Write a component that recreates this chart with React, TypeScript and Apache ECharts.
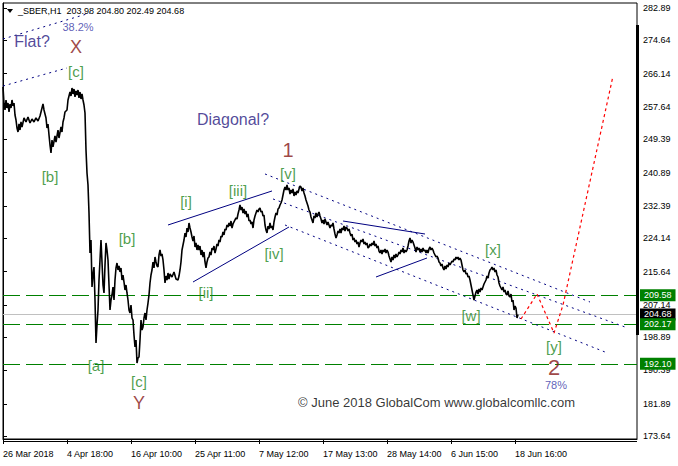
import React, { useEffect, useRef } from "react";
import * as echarts from "echarts";

const FONT = "'Liberation Sans', Arial, sans-serif";

// ---- axes ----
const xTickPositions = [0, 64, 128, 192, 256, 320, 384, 448, 512];
const xTickLabels = [
  "26 Mar 2018", "4 Apr 18:00", "16 Apr 10:00", "25 Apr 11:00", "7 May 12:00",
  "17 May 13:00", "28 May 14:00", "6 Jun 15:00", "18 Jun 16:00",
];
const yTickLabels = [
  282.89, 274.64, 266.14, 257.64, 249.39, 240.89, 232.39, 224.14, 215.64,
  207.14, 198.89, 190.39, 181.89, 173.64,
];
const Y_MIN = 172.9;
const Y_MAX = 284.16;
const X_MAX = 634;

// ---- levels ----
const supportLevels = [209.58, 202.17, 192.1];
const lastPrice = 204.68;

// ---- price (bar index, price) ----
const priceSeries: [number, number][] = [
  [0, 262.73], [1, 258.39], [2, 256.86], [3, 259.41], [4, 257.37], [5, 258.64], [6, 256.35], [7, 258.39],
  [8, 257.37], [9, 259.41], [10, 257.88], [11, 258.64], [12, 255.58], [13, 254.31], [14, 252.26], [15, 251.24],
  [16, 253.29], [17, 251.75], [18, 253.8], [19, 252.52], [21, 254.82], [23, 253.8], [25, 255.07], [27, 253.54],
  [29, 254.56], [31, 253.8], [33, 254.82], [35, 254.05], [37, 255.33], [39, 257.37], [40, 258.39], [41, 256.86],
  [43, 254.82], [44, 252.26], [45, 253.29], [46, 250.48], [47, 247.93], [48, 245.88], [49, 249.2], [50, 247.42],
  [52, 250.22], [53, 248.69], [55, 251.75], [56, 249.71], [58, 252.52], [59, 251.24], [60, 253.8], [61, 254.82],
  [62, 256.35], [64, 256.86], [65, 259.41], [67, 261.45], [68, 260.43], [69, 262.47], [70, 260.94], [71, 262.22],
  [72, 260.18], [73, 261.71], [74, 260.69], [75, 261.96], [76, 259.92], [77, 261.45], [78, 259.67], [79, 260.94],
  [80, 259.41], [81, 258.13], [82, 256.09],
  [83, 246.65], [84, 240.78], [85, 237.72], [86, 230.57], [87, 220.36], [88, 223.68], [89, 211.69], [90, 214.75],
  [91, 216.79], [92, 208.37], [93, 197.4], [94, 201.99], [95, 205.82], [96, 213.47], [97, 218.58], [98, 223.68],
  [99, 218.07], [100, 212.2], [101, 210.16], [102, 217.3], [103, 222.92], [104, 221.13], [105, 218.58], [106, 212.2],
  [107, 205.82], [108, 208.37], [109, 209.65], [110, 211.69], [111, 208.37], [112, 213.47], [113, 216.54], [114, 217.81],
  [115, 216.03], [116, 217.05], [117, 215.52], [118, 216.54], [119, 213.47], [120, 214.75], [121, 212.96], [122, 210.92],
  [123, 212.2], [124, 210.16], [125, 208.37], [126, 205.82], [127, 205.05], [128, 207.09], [129, 203.78], [130, 203.27],
  [131, 199.44], [132, 196.38], [133, 198.16], [134, 192.29], [135, 193.57], [136, 193.82], [137, 198.16], [138, 203.27],
  [139, 200.71], [140, 201.48], [141, 203.78], [142, 205.05], [143, 203.27], [144, 205.82], [145, 207.6], [146, 209.65],
  [147, 212.71],
  [148, 214.75], [149, 216.03], [150, 218.07], [151, 216.54], [152, 219.34], [153, 218.07], [154, 217.05], [155, 216.79],
  [156, 219.85], [157, 221.13], [158, 219.6], [159, 220.11], [160, 218.58], [161, 216.03], [162, 212.71], [163, 214.49],
  [164, 213.47], [165, 215.26], [166, 213.73], [167, 215.01], [169, 214.24], [171, 215.52], [173, 213.73], [175, 213.47],
  [176, 214.49], [177, 216.03], [178, 218.07], [179, 221.13], [180, 222.41], [181, 223.68], [182, 225.47], [183, 224.45],
  [184, 226.74], [185, 225.72], [186, 228.02], [187, 226.74], [188, 225.72], [189, 224.45], [190, 223.43], [191, 224.7],
  [192, 221.9], [193, 222.92], [194, 221.13], [195, 222.41], [196, 221.13], [197, 222.15], [198, 219.85], [199, 221.13],
  [200, 219.34], [201, 220.62], [202, 218.07], [203, 216.54], [204, 218.07], [205, 219.09], [206, 219.34], [207, 220.62],
  [208, 219.85], [209, 221.64], [210, 221.13], [211, 222.15], [212, 220.36], [213, 221.39], [214, 222.66], [215, 222.15],
  [216, 223.68], [217, 223.17], [218, 224.7], [219, 224.45], [220, 225.72], [221, 224.96], [222, 226.49], [223, 226.23],
  [224, 227.51], [225, 227.0], [226, 228.02], [227, 227.25], [228, 228.53], [229, 226.74], [230, 227.77], [231, 228.28],
  [232, 228.79], [233, 229.3], [234, 229.04], [235, 230.32], [236, 231.34], [237, 232.61], [238, 231.34], [239, 232.1],
  [240, 230.57], [241, 231.59], [242, 230.32], [243, 231.08], [244, 229.55], [245, 230.32], [246, 228.53], [247, 228.79],
  [248, 227.77], [249, 228.28], [250, 226.74], [251, 228.79], [252, 229.81], [253, 230.57], [254, 231.34], [255, 230.83],
  [256, 231.59], [257, 231.85], [258, 230.83], [259, 231.08], [260, 229.81], [261, 230.06], [262, 227.51], [263, 226.23],
  [264, 225.47], [265, 227.25], [266, 226.49], [267, 228.02], [268, 226.74], [269, 227.25], [270, 226.23], [271, 228.28],
  [272, 229.55], [273, 230.57], [274, 230.06], [275, 231.59], [276, 231.85], [277, 232.61], [278, 233.12], [279, 233.89],
  [280, 235.17], [281, 236.44], [282, 237.21], [283, 236.44], [284, 237.72],
  [285, 236.44], [286, 236.95], [287, 235.42], [288, 236.44], [289, 235.68], [290, 236.7], [291, 234.91], [292, 235.93],
  [293, 235.17], [294, 236.19], [295, 235.68], [296, 236.7], [297, 237.46], [298, 237.21], [299, 236.19], [300, 236.95],
  [301, 235.68], [302, 234.91], [303, 233.89], [304, 233.12], [305, 232.36], [306, 231.34], [307, 230.83], [308, 229.55],
  [309, 228.79], [310, 228.02], [311, 229.81], [312, 229.3], [313, 230.57], [314, 229.55], [315, 230.32], [316, 230.83],
  [317, 229.81], [318, 229.04], [319, 228.02], [320, 228.79], [321, 227.77], [322, 229.04], [323, 228.28], [324, 227.51],
  [325, 228.28], [327, 226.74], [328, 227.51], [329, 227.25], [330, 228.02], [331, 226.49], [332, 225.21], [333, 224.19],
  [334, 224.96], [335, 225.98], [336, 225.47], [337, 226.49], [338, 225.47], [339, 226.74], [340, 226.23], [341, 227.25],
  [342, 225.98], [343, 227.0], [344, 226.74], [345, 225.98], [346, 226.49], [347, 225.47], [348, 224.7], [349, 225.21],
  [350, 223.68], [351, 224.19], [352, 223.17], [353, 223.68], [354, 222.66], [355, 223.17], [356, 221.9], [357, 222.92],
  [358, 223.68], [359, 223.17], [360, 223.94], [361, 222.66], [362, 223.17], [363, 222.41], [364, 222.92], [365, 221.64],
  [366, 221.9], [367, 222.66], [368, 222.15], [369, 222.92], [370, 222.41], [371, 223.43], [372, 222.15], [373, 222.66],
  [374, 221.64], [375, 222.15], [376, 220.87], [377, 220.36], [378, 221.13], [379, 220.11], [380, 221.13], [381, 220.62],
  [382, 221.39], [383, 220.36], [384, 221.13], [385, 220.62], [386, 219.6], [387, 218.83], [388, 218.07], [389, 219.34],
  [390, 218.58], [391, 219.85], [392, 219.09], [393, 220.11], [394, 219.34], [395, 219.85], [396, 220.62], [397, 220.11],
  [398, 221.13], [399, 220.62], [400, 221.64], [401, 220.36], [402, 221.13], [403, 220.62], [404, 221.13], [405, 222.15],
  [406, 223.43], [407, 224.19], [408, 222.92], [409, 223.68], [410, 223.17], [411, 222.41], [412, 221.64], [413, 220.62],
  [414, 221.9], [415, 221.13], [416, 221.64], [417, 220.62], [418, 221.39], [419, 220.62], [420, 221.64], [421, 220.87],
  [422, 221.13], [423, 220.36], [424, 221.13], [425, 220.36], [426, 221.39], [427, 221.9], [428, 221.13], [429, 221.64],
  [430, 221.13], [431, 220.36], [432, 219.85], [433, 219.34], [434, 219.6], [435, 219.09], [436, 218.07], [437, 217.81],
  [438, 217.05], [439, 217.56], [440, 216.54], [441, 216.03], [442, 217.05], [443, 216.28], [444, 217.3], [445, 216.79],
  [446, 217.81], [447, 217.3], [448, 217.81], [449, 218.32], [450, 218.07], [451, 218.83], [452, 218.58], [453, 219.34],
  [454, 218.83], [455, 219.34], [456, 218.58], [457, 219.09], [458, 218.58], [459, 217.3], [460, 216.03], [461, 215.52],
  [462, 216.03], [463, 215.01], [464, 215.26], [465, 214.24], [466, 214.49], [467, 213.47], [468, 212.2], [469, 210.92],
  [470, 209.65], [471, 208.37], [472, 209.39], [473, 210.41], [474, 210.92], [475, 209.9], [476, 211.18], [477, 210.41],
  [478, 211.43], [479, 210.92], [480, 211.69], [481, 212.45], [482, 212.96], [483, 213.47], [484, 214.49], [485, 213.98],
  [486, 215.26], [487, 216.03], [488, 216.28], [489, 216.79], [490, 216.03], [491, 216.54], [492, 215.52], [493, 216.03],
  [494, 214.75], [495, 214.24], [496, 212.71], [497, 211.94], [498, 211.43], [499, 210.92], [500, 211.69], [501, 210.41],
  [502, 210.92], [503, 209.9], [504, 209.65], [505, 210.67], [506, 209.39], [507, 209.14], [508, 209.9], [509, 207.86],
  [510, 208.37], [511, 205.82], [512, 206.84], [513, 206.33], [514, 203.78], [515, 204.68],
];

// ---- drawn lines (bar index, price) ----
const flatUpper: [number, number][] = [[0, 274.98], [87, 281.61]];
const flatLower: [number, number][] = [[0, 262.98], [64, 267.58]];
const wedgeUpper: [number, number][] = [[165, 227.51], [269, 236.19]];
const wedgeLower: [number, number][] = [[190, 212.96], [286, 227.0]];
const corrUpper: [number, number][] = [[340, 228.53], [422, 225.21]];
const corrLower: [number, number][] = [[373, 214.24], [424, 219.09]];
const channelUpper: [number, number][] = [[262, 240.53], [587, 207.86]];
const channelMiddle: [number, number][] = [[270, 234.15], [622, 201.48]];
const channelLower: [number, number][] = [[282, 227.51], [602, 195.1]];
const forecastPath: [number, number][] = [[518, 203.52], [534, 209.9], [551, 199.95], [560, 207.09], [610, 265.53]];

// ---- annotations ----
type Kind = "wave" | "major" | "note" | "pct" | "copy";
const annotations: { x: number; y: number; text: string; kind: Kind; size?: number }[] = [
  { x: 29, y: 274.21, text: "Flat?", kind: "note" },
  { x: 75, y: 278.04, text: "38.2%", kind: "pct" },
  { x: 73, y: 272.94, text: "X", kind: "major" },
  { x: 73, y: 266.56, text: "[c]", kind: "wave" },
  { x: 47, y: 239.76, text: "[b]", kind: "wave" },
  { x: 124, y: 223.94, text: "[b]", kind: "wave" },
  { x: 183, y: 233.38, text: "[i]", kind: "wave" },
  { x: 235, y: 236.44, text: "[iii]", kind: "wave" },
  { x: 285, y: 246.65, text: "1", kind: "major", size: 20 },
  { x: 285, y: 240.53, text: "[v]", kind: "wave" },
  { x: 271, y: 220.11, text: "[iv]", kind: "wave" },
  { x: 203, y: 210.16, text: "[ii]", kind: "wave" },
  { x: 230, y: 254.31, text: "Diagonal?", kind: "note" },
  { x: 93, y: 191.53, text: "[a]", kind: "wave" },
  { x: 136, y: 187.7, text: "[c]", kind: "wave" },
  { x: 136, y: 182.08, text: "Y", kind: "major" },
  { x: 490, y: 221.13, text: "[x]", kind: "wave" },
  { x: 468, y: 204.54, text: "[w]", kind: "wave" },
  { x: 551, y: 196.38, text: "[y]", kind: "wave" },
  { x: 551, y: 191.27, text: "2", kind: "major", size: 22 },
  { x: 553, y: 186.67, text: "78%", kind: "pct" },
  { x: 433.5, y: 182.34, text: "© June 2018 GlobalCom www.globalcomllc.com", kind: "copy" },
];

const kindStyle: Record<Kind, any> = {
  wave: { color: "#1c861c", fontSize: 15, lineHeight: 15 },
  major: { color: "#861616", fontSize: 18, lineHeight: 17 },
  note: { color: "#27187f", fontSize: 16, lineHeight: 16 },
  pct: { color: "#3434a6", fontSize: 11, lineHeight: 11 },
  copy: { color: "#000000", fontSize: 13, lineHeight: 14 },
};

const NAVY = "#000080";

function lineSeries(data: [number, number][], style: any) {
  return {
    type: "line",
    data,
    symbol: "none",
    silent: true,
    z: 3,
    lineStyle: style,
  };
}

export default function App() {
  const ref = useRef<HTMLDivElement>(null);
  useEffect(() => {
    if (!ref.current) return;
    const chart = echarts.init(ref.current, undefined, { renderer: "svg" });
    const dotted = { color: NAVY, width: 1, type: [2, 4] };
    const solid = { color: NAVY, width: 1, type: "solid" };
    const levelLabel = (bg: string) => ({
      show: true,
      position: "end",
      distance: 3,
      formatter: (p: any) => Number(p.value).toFixed(2),
      color: "#fff",
      backgroundColor: bg,
      padding: [2, 4, 1, 4],
      fontSize: 9,
      lineHeight: 9,
      fontFamily: FONT,
    });
    chart.setOption({
      animation: false,
      backgroundColor: "#fff",
      grid: {
        left: 3,
        top: 3,
        width: 634,
        height: 436,
        show: true,
        borderColor: "#000",
        borderWidth: 1,
        containLabel: false,
      },
      xAxis: {
        type: "value",
        min: 0,
        max: X_MAX,
        splitLine: { show: false },
        axisLine: { show: true, lineStyle: { color: "#000" } },
        axisTick: { show: true, customValues: xTickPositions, length: 5, lineStyle: { color: "#000" } },
        axisLabel: {
          customValues: xTickPositions,
          formatter: (v: number) => xTickLabels[xTickPositions.indexOf(Math.round(v))] ?? "",
          align: "left",
          margin: 10,
          color: "#000",
          fontSize: 9,
          fontFamily: FONT,
        },
      },
      yAxis: {
        type: "value",
        position: "right",
        min: Y_MIN,
        max: Y_MAX,
        splitLine: { show: false },
        axisLine: { show: true, lineStyle: { color: "#000" } },
        axisTick: { show: true, customValues: yTickLabels, length: 4, lineStyle: { color: "#000" } },
        axisLabel: {
          customValues: yTickLabels,
          formatter: (v: number) => v.toFixed(2),
          margin: 6,
          color: "#000",
          fontSize: 9,
          lineHeight: 9,
          fontFamily: FONT,
        },
      },
      graphic: [
        { type: "rect", shape: { x: 636, y: 25, width: 3, height: 310 }, style: { fill: "#000" }, z: 10 },
        { type: "line", shape: { x1: 3, y1: 441.5, x2: 637, y2: 441.5 }, style: { stroke: "#000", lineWidth: 1 } },
        { type: "polygon", shape: { points: [[7, 9], [13, 9], [10, 13]] }, style: { fill: "#000" } },
        {
          type: "text",
          x: 18,
          y: 6,
          style: { text: "_SBER,H1  203.98 204.80 202.49 204.68", fill: "#000", fontSize: 9, fontFamily: FONT },
        },
      ],
      series: [
        lineSeries(flatUpper, dotted),
        lineSeries(flatLower, dotted),
        lineSeries(wedgeUpper, solid),
        lineSeries(wedgeLower, solid),
        lineSeries(corrUpper, solid),
        lineSeries(corrLower, solid),
        lineSeries(channelUpper, dotted),
        lineSeries(channelMiddle, dotted),
        lineSeries(channelLower, dotted),
        lineSeries(forecastPath, { color: "#ff0000", width: 1.2, type: [3, 3] }),
        {
          type: "line",
          data: priceSeries,
          symbol: "none",
          silent: true,
          z: 4,
          lineStyle: { color: "#000", width: 1.6 },
          markLine: {
            silent: true,
            symbol: ["none", "none"],
            animation: false,
            z: 2,
            data: [
              {
                yAxis: lastPrice,
                lineStyle: { color: "#c0c0c0", width: 1, type: "solid" },
                label: levelLabel("#000"),
              },
              ...supportLevels.map((v) => ({
                yAxis: v,
                lineStyle: { color: "#008000", width: 1, type: [17, 6] },
                label: levelLabel("#008000"),
              })),
            ],
          },
        },
        {
          type: "scatter",
          silent: true,
          symbolSize: 1,
          itemStyle: { color: "transparent" },
          z: 6,
          data: annotations.map((a) => ({
            value: [a.x, a.y],
            label: {
              show: true,
              position: "inside",
              formatter: a.text,
              fontFamily: FONT,
              ...kindStyle[a.kind],
              ...(a.size ? { fontSize: a.size, lineHeight: a.size - 2 } : {}),
            },
          })),
        },
      ],
    });
    return () => chart.dispose();
  }, []);
  return (
    <div
      ref={ref}
      style={{ position: "absolute", left: 0, top: 0, width: 678, height: 466, background: "#fff" }}
    />
  );
}
